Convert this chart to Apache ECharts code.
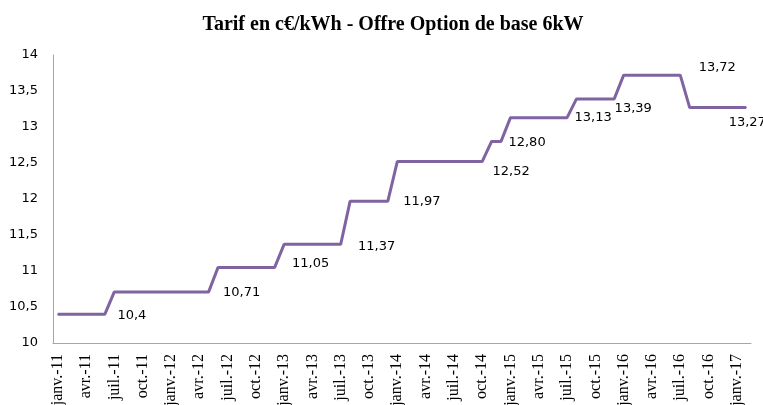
<!DOCTYPE html>
<html>
<head>
<meta charset="utf-8">
<script src="https://cdn.jsdelivr.net/npm/echarts@6/dist/echarts.min.js"></script>
<style>
  html, body { margin: 0; padding: 0; background: #fff; }
  #chart { width: 763px; height: 405px; }
</style>
</head>
<body>
<div id="chart"></div>
<script>
// mois de janv.-11 a fevr.-17
var monthNames = ["janv.", "févr.", "mars", "avr.", "mai", "juin", "juil.", "août", "sept.", "oct.", "nov.", "déc."];
var years = ["11", "12", "13", "14", "15", "16", "17"];
var months = [];
years.forEach(function (y) {
    monthNames.forEach(function (m) {
        if (months.length < 74) months.push(m + "-" + y);
    });
});

// tarif mensuel (c€/kWh)
var tarif = [
    10.4, 10.4, 10.4, 10.4, 10.4, 10.4,
    10.71, 10.71, 10.71, 10.71, 10.71, 10.71, 10.71, 10.71, 10.71, 10.71, 10.71,
    11.05, 11.05, 11.05, 11.05, 11.05, 11.05, 11.05,
    11.37, 11.37, 11.37, 11.37, 11.37, 11.37, 11.37,
    11.97, 11.97, 11.97, 11.97, 11.97,
    12.52, 12.52, 12.52, 12.52, 12.52, 12.52, 12.52, 12.52, 12.52, 12.52,
    12.80, 12.80,
    13.13, 13.13, 13.13, 13.13, 13.13, 13.13, 13.13,
    13.39, 13.39, 13.39, 13.39, 13.39,
    13.72, 13.72, 13.72, 13.72, 13.72, 13.72, 13.72,
    13.27, 13.27, 13.27, 13.27, 13.27, 13.27, 13.27
];

// etiquettes de donnees
var labelIdx = [5, 16, 23, 30, 35, 45, 47, 54, 59, 66, 73];
var labelText = ["10,4", "10,71", "11,05", "11,37", "11,97", "12,52", "12,80", "13,13", "13,39", "13,72", "13,27"];
var labelShift = [[27, 1], [33, 1], [36, -4], [36, 2], [34, 0], [29, 10], [26, 1], [26, 0], [19, 10], [37, -8], [1, 15]];

var seriesData = tarif.map(function (v, i) {
    var k = labelIdx.indexOf(i);
    if (k < 0) return v;
    return {
        value: v,
        label: {
            show: true,
            position: "inside",
            offset: labelShift[k],
            formatter: labelText[k]
        }
    };
});

var chart = echarts.init(document.getElementById("chart"));
chart.setOption({
    animation: false,
    title: {
        text: "Tarif en c€/kWh - Offre Option de base 6kW",
        left: 388,
        textAlign: "center",
        top: 10,
        textStyle: {
            fontFamily: "Liberation Serif",
            fontWeight: "bold",
            fontSize: 20,
            color: "#000"
        }
    },
    grid: { left: 53, right: 12, top: 55, bottom: 62, outerBoundsMode: "none", containLabel: false },
    xAxis: {
        type: "category",
        data: months,
        boundaryGap: true,
        axisLine: { lineStyle: { color: "#a6a6a6", width: 1 } },
        axisTick: { show: false },
        axisLabel: {
            interval: 2,
            rotate: 90,
            margin: 11,
            fontFamily: "Liberation Serif",
            fontSize: 16,
            color: "#000"
        }
    },
    yAxis: {
        type: "value",
        min: 10,
        max: 14,
        interval: 0.5,
        splitLine: { show: false },
        axisLine: { show: true, lineStyle: { color: "#a6a6a6", width: 1 } },
        axisTick: { show: false },
        axisLabel: {
            margin: 15,
            fontFamily: "DejaVu Sans",
            fontSize: 13,
            color: "#000",
            formatter: function (v) { return String(v).replace(".", ","); }
        }
    },
    series: [{
        type: "line",
        data: seriesData,
        symbol: "circle",
        symbolSize: 1,
        showSymbol: true,
        lineStyle: { color: "#8064a2", width: 3 },
        itemStyle: { color: "#8064a2" },
        label: {
            fontFamily: "DejaVu Sans",
            fontSize: 13,
            color: "#000"
        }
    }]
});
window.addEventListener("resize", function () { chart.resize(); });
</script>
</body>
</html>
